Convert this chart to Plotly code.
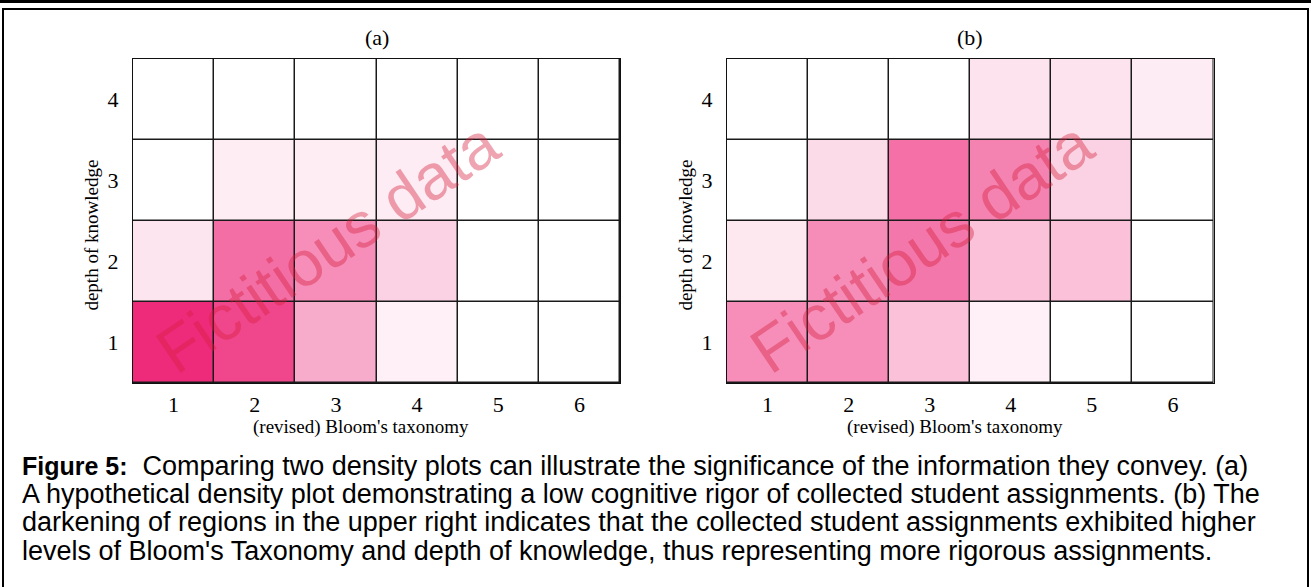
import plotly.graph_objs as go

# Density plots: rows = depth of knowledge (1..4), cols = Bloom's level (1..6)
bloom_levels = [1, 2, 3, 4, 5, 6]
dok_levels = [1, 2, 3, 4]

density_a = [
    [1.00, 0.87, 0.39, 0.07, 0.00, 0.00],
    [0.12, 0.68, 0.53, 0.21, 0.00, 0.00],
    [0.00, 0.08, 0.08, 0.09, 0.00, 0.00],
    [0.00, 0.00, 0.00, 0.00, 0.00, 0.00],
]

density_b = [
    [0.53, 0.53, 0.29, 0.07, 0.00, 0.00],
    [0.11, 0.54, 0.64, 0.29, 0.29, 0.00],
    [0.00, 0.17, 0.67, 0.58, 0.21, 0.00],
    [0.00, 0.00, 0.00, 0.13, 0.13, 0.09],
]

panel_titles = ["(a)", "(b)"]
x_title = "(revised) Bloom's taxonomy"
y_title = "depth of knowledge"
caption_lines = [
    "<span style='font-size:25px'><b>Figure 5:</b></span>  Comparing two density plots can illustrate the significance of the information they convey. (a)",
    "A hypothetical density plot demonstrating a low cognitive rigor of collected student assignments. (b) The",
    "darkening of regions in the upper right indicates that the collected student assignments exhibited higher",
    "levels of Bloom's Taxonomy and depth of knowledge, thus representing more rigorous assignments.",
]

W, H = 1311, 587
serif = "Liberation Serif, Times New Roman, serif"
sans = "Liberation Sans, Arial, sans-serif"
pink_scale = [[0, "#FFFFFF"], [1, "#EE2A7B"]]


def px_x(v):
    return v / W


def px_y(v):
    return 1 - v / H


def density_trace(z, xa, ya):
    return go.Heatmap(
        x=bloom_levels,
        y=dok_levels,
        z=z,
        xaxis=xa,
        yaxis=ya,
        colorscale=pink_scale,
        zmin=0,
        zmax=1,
        xgap=1.5,
        ygap=1.5,
        showscale=False,
        hoverinfo="skip",
    )


data = [density_trace(density_a, "x", "y"), density_trace(density_b, "x2", "y2")]

xdomains = [[px_x(133), px_x(620)], [px_x(727), px_x(1213.5)]]
ydomain = [px_y(383), px_y(59)]
ytitle_x = [92, 686]

axis_common = dict(
    showline=True,
    linecolor="#111",
    linewidth=1,
    mirror=True,
    showgrid=False,
    zeroline=False,
    ticks="",
    tickfont=dict(family=serif, size=22, color="#000"),
    fixedrange=True,
)

layout = go.Layout(
    width=W,
    height=H,
    margin=dict(l=0, r=0, t=0, b=0, autoexpand=False),
    paper_bgcolor="#FFFFFF",
    plot_bgcolor="#1a1a1a",
    showlegend=False,
    font=dict(family=serif, color="#000"),
)

fig = go.Figure(data=data, layout=layout)

for i, suffix in enumerate(["", "2"]):
    fig.layout["xaxis" + suffix] = dict(
        axis_common,
        domain=xdomains[i],
        anchor="y" + suffix,
        tickvals=bloom_levels,
        range=[0.5, 6.5],
        ticklabelstandoff=2,
    )
    fig.layout["yaxis" + suffix] = dict(
        axis_common,
        domain=ydomain,
        anchor="x" + suffix,
        tickvals=dok_levels,
        range=[0.5, 4.5],
        ticklabelstandoff=9,
    )

    xref = "x" + suffix + " domain"
    yref = "y" + suffix + " domain"
    fig.add_annotation(
        text=panel_titles[i], xref=xref, yref=yref, x=0.5, y=1.0,
        xanchor="center", yanchor="bottom", yshift=7, showarrow=False,
        font=dict(family=serif, size=22, color="#000"),
    )
    fig.add_annotation(
        text=x_title, xref=xref, yref="paper", x=0.469, y=px_y(427),
        xanchor="center", yanchor="middle", showarrow=False,
        font=dict(family=serif, size=19, color="#000"),
    )
    fig.add_annotation(
        text=y_title, xref="paper", yref=yref, x=px_x(ytitle_x[i]), y=0.455,
        xanchor="center", yanchor="middle", textangle=-90, showarrow=False,
        font=dict(family=serif, size=19, color="#000"),
    )
    fig.add_annotation(
        text="Fictitious data", xref=xref, yref=yref, x=0.40, y=0.42,
        xanchor="center", yanchor="middle", textangle=-34, showarrow=False,
        font=dict(family=sans, size=64, color="rgba(215,30,60,0.40)"),
    )

# caption
caption_y = [466, 494, 522, 551]
for line, yy in zip(caption_lines, caption_y):
    fig.add_annotation(
        text=line, xref="paper", yref="paper", x=px_x(20), y=px_y(yy),
        xanchor="left", yanchor="middle", showarrow=False,
        font=dict(family=sans, size=27, color="#000"),
    )

# frame lines of the page
fig.add_shape(type="line", xref="paper", yref="paper", x0=0, x1=1,
              y0=px_y(1.5), y1=px_y(1.5), line=dict(color="#000", width=3))
fig.add_shape(type="rect", xref="paper", yref="paper", x0=px_x(3), x1=px_x(1308),
              y0=-0.05, y1=px_y(9), line=dict(color="#000", width=2))

fig.write_html("out.html", config={"displayModeBar": False},
               post_script="document.body.style.margin = '0';")
